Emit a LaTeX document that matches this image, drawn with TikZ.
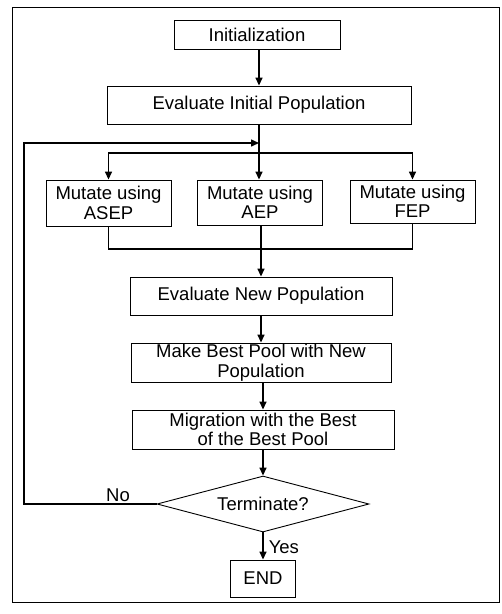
\documentclass[tikz,border=0pt]{standalone}
\usepackage{fontspec}
\setmainfont{Liberation Sans}
\usetikzlibrary{arrows.meta,positioning,calc,shapes.geometric}
\tikzset{
  >={Triangle[length=8pt,width=7pt]},
  box/.style={draw=black,line width=0.9pt,inner sep=0pt,align=center,fill=white,font=\fontsize{18.5}{19.5}\selectfont},
  dbox/.style={box,diamond,aspect=3.8},
  lab/.style={font=\fontsize{18.5}{19.5}\selectfont,inner sep=1pt},
  arr/.style={->,draw=black,line width=1.5pt},
  ln/.style={draw=black,line width=1.5pt},
}

\begin{document}
\begin{tikzpicture}[x=1pt,y=-1pt]
\useasboundingbox (0,0) rectangle (502,614);
\draw[line width=1pt] (12,7) rectangle (499,602);
\node[box,minimum width=166,minimum height=29] (init) at (257,34.5) {Initialization};
\node[box,minimum width=304,minimum height=38] (ei) at (259,105) {Evaluate Initial Population};
\node[box,minimum width=125,minimum height=46] (asep) at (108.5,203) {Mutate using\\ASEP};
\node[box,minimum width=125,minimum height=45] (aep) at (260,202.5) {Mutate using\\AEP};
\node[box,minimum width=125,minimum height=43] (fep) at (412.5,201.5) {Mutate using\\FEP};
\node[box,minimum width=262,minimum height=38] (en) at (261,296) {Evaluate New Population};
\node[box,minimum width=260,minimum height=39] (pool) at (261,362.5) {Make Best Pool with New\\Population};
\node[box,minimum width=262,minimum height=39] (mig) at (263,429.5) {Migration with the Best\\of the Best Pool};
\node[dbox,minimum width=212,minimum height=56] (term) at (263,504) {Terminate?};
\node[box,minimum width=65,minimum height=37] (end) at (263,578.5) {END};
\coordinate (join) at (259,143);
\coordinate (split) at (259,153);
\coordinate (merge) at (261,249);
\coordinate (lc) at (24,504);
% main column
\draw[arr] (init.south -| join) -- (ei.north -| join);
\draw[ln] (ei.south -| join) -- (split);
\draw[arr] (split) -| (asep.north);
\draw[arr] (split) -- (split |- aep.north);
\draw[arr] (split) -| (fep.north);
\draw[ln] (asep.south) |- (merge) -| (fep.south);
\draw[ln] (aep.south -| merge) -- (merge);
\draw[arr] (merge) -- (en.north);
\draw[arr] (en) -- (pool);
\draw[arr] (pool.south -| mig) -- (mig.north);
\draw[arr] (mig) -- (term);
\draw[arr] (term) -- (end) node[lab,pos=0.55,right=4pt]{Yes};
% loop back
\draw[arr] (term.west) -- (lc) |- (join);
\node[lab,above] (no) at (118,503) {No};
\end{tikzpicture}
\end{document}
